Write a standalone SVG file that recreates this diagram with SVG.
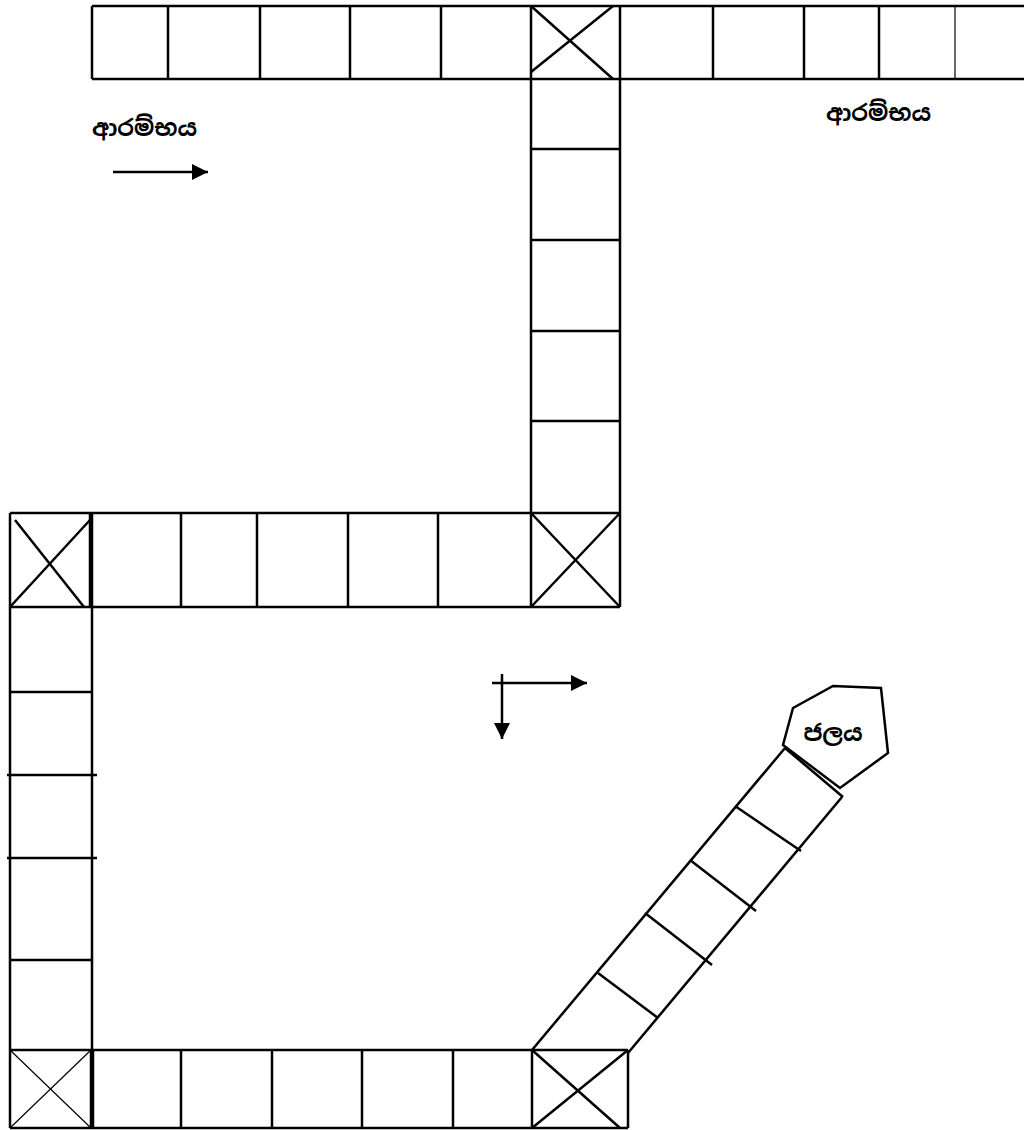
<svg xmlns="http://www.w3.org/2000/svg" width="1024" height="1130" viewBox="0 0 1024 1130">
<style>
.c{fill:none;stroke:#000;stroke-width:2.5}
.l{stroke:#000;stroke-width:2.5;fill:none}
.t{stroke:#000;stroke-width:1.2;fill:none}
.lb{font-family:"Noto Sans Sinhala","Iskoola Pota","Noto Sans","DejaVu Sans",sans-serif;font-size:23px;font-weight:bold;fill:#000}
</style>
<defs>
<marker id="ah2" viewBox="0 0 10 10" refX="10" refY="5" markerWidth="18" markerHeight="16" markerUnits="userSpaceOnUse" orient="auto">
<path d="M0,0 L10,5 L0,10 Z" fill="#000"/>
</marker>
</defs>
<rect width="1024" height="1130" fill="#fff"/>

<g id="top-row">
<line class="l" x1="92" y1="6" x2="1024" y2="6"/>
<line class="l" x1="92" y1="79" x2="1024" y2="79"/>
<line class="l" x1="92" y1="6" x2="92" y2="79"/>
<line class="l" x1="168" y1="6" x2="168" y2="79"/>
<line class="l" x1="260" y1="6" x2="260" y2="79"/>
<line class="l" x1="350" y1="6" x2="350" y2="79"/>
<line class="l" x1="441" y1="6" x2="441" y2="79"/>
<line class="l" x1="531" y1="6" x2="531" y2="79"/>
<line class="l" x1="620" y1="6" x2="620" y2="79"/>
<line class="l" x1="713" y1="6" x2="713" y2="79"/>
<line class="l" x1="804" y1="6" x2="804" y2="79"/>
<line class="l" x1="879" y1="6" x2="879" y2="79"/>
<line class="t" x1="955" y1="6" x2="955" y2="79"/>
</g>
<g id="top-cross">
<line class="l" x1="531" y1="6" x2="613" y2="79"/>
<line class="l" x1="531" y1="72" x2="613" y2="6"/>
</g>

<g id="right-column">
<line class="l" x1="531" y1="79" x2="531" y2="513"/>
<line class="l" x1="620" y1="79" x2="620" y2="513"/>
<line class="l" x1="531" y1="149" x2="620" y2="149"/>
<line class="l" x1="531" y1="240" x2="620" y2="240"/>
<line class="l" x1="531" y1="331" x2="620" y2="331"/>
<line class="l" x1="531" y1="421" x2="620" y2="421"/>
</g>

<g id="middle-row">
<line class="l" x1="10" y1="513" x2="620" y2="513"/>
<line class="l" x1="10" y1="607" x2="620" y2="607"/>
<line class="l" x1="10" y1="513" x2="10" y2="607"/>
<line class="l" x1="90" y1="513" x2="90" y2="607"/>
<line class="l" x1="92" y1="513" x2="92" y2="607"/>
<line class="l" x1="181" y1="513" x2="181" y2="607"/>
<line class="l" x1="257" y1="513" x2="257" y2="607"/>
<line class="l" x1="348" y1="513" x2="348" y2="607"/>
<line class="l" x1="438" y1="513" x2="438" y2="607"/>
<line class="l" x1="531" y1="513" x2="531" y2="607"/>
<line class="l" x1="620" y1="513" x2="620" y2="607"/>
</g>
<g id="middle-left-cross">
<line class="l" x1="15" y1="520" x2="84" y2="607"/>
<line class="l" x1="10" y1="607" x2="90" y2="520"/>
</g>
<g id="middle-right-cross">
<line class="l" x1="531" y1="513" x2="620" y2="607"/>
<line class="l" x1="531" y1="607" x2="620" y2="513"/>
</g>

<g id="left-column">
<line class="l" x1="10" y1="607" x2="10" y2="1050"/>
<line class="l" x1="92" y1="607" x2="92" y2="1050"/>
<line class="l" x1="10" y1="692" x2="92" y2="692"/>
<line class="l" x1="7" y1="775" x2="97" y2="775"/>
<line class="l" x1="7" y1="858" x2="97" y2="858"/>
<line class="l" x1="10" y1="960" x2="92" y2="960"/>
</g>

<g id="bottom-row">
<line class="l" x1="10" y1="1050" x2="628" y2="1050"/>
<line class="l" x1="10" y1="1128" x2="628" y2="1128"/>
<line class="l" x1="10" y1="1050" x2="10" y2="1128"/>
<line class="l" x1="91" y1="1050" x2="91" y2="1128"/>
<line class="l" x1="93" y1="1050" x2="93" y2="1128"/>
<line class="l" x1="181" y1="1050" x2="181" y2="1128"/>
<line class="l" x1="272" y1="1050" x2="272" y2="1128"/>
<line class="l" x1="362" y1="1050" x2="362" y2="1128"/>
<line class="l" x1="453" y1="1050" x2="453" y2="1128"/>
<line class="l" x1="532" y1="1050" x2="532" y2="1128"/>
<line class="l" x1="628" y1="1050" x2="628" y2="1128"/>
</g>
<g id="bottom-left-cross">
<line class="t" x1="10" y1="1050" x2="91" y2="1128"/>
<line class="t" x1="10" y1="1128" x2="91" y2="1050"/>
</g>
<g id="bottom-right-cross">
<line class="l" x1="532" y1="1050" x2="620" y2="1128"/>
<line class="l" x1="532" y1="1128" x2="628" y2="1050"/>
</g>

<g id="diagonal-strip">
<line class="l" x1="532" y1="1050" x2="785" y2="748"/>
<line class="l" x1="628" y1="1053" x2="842" y2="797"/>
<line class="l" x1="598" y1="973" x2="658" y2="1018"/>
<line class="l" x1="645" y1="913" x2="712" y2="965"/>
<line class="l" x1="690" y1="860" x2="756" y2="911"/>
<line class="l" x1="735" y1="806" x2="801" y2="851"/>
<line class="l" x1="785" y1="748" x2="843" y2="797"/>
</g>

<g id="water">
<polygon class="c" points="833,686 881,688 888,753 840,788 783,745 793,708"/>
<text class="lb" x="833" y="741" text-anchor="middle">ජලය</text>
</g>

<g id="start-left">
<text class="lb" x="92" y="136">ආරම්භය</text>
</g>
<g id="start-right">
<text class="lb" x="826" y="121">ආරම්භය</text>
</g>

<g id="connectors">
<line class="l" x1="113" y1="172" x2="208" y2="172" marker-end="url(#ah2)"/>
<line class="l" x1="492" y1="683" x2="587" y2="683" marker-end="url(#ah2)"/>
<line class="l" x1="502" y1="674" x2="502" y2="739" marker-end="url(#ah2)"/>
</g>
</svg>
